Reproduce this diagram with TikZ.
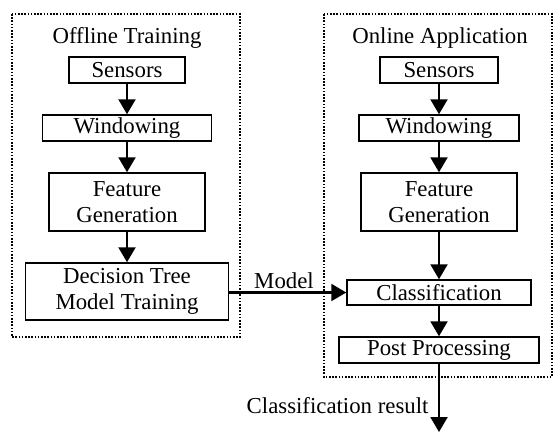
\documentclass[tikz,border=0pt]{standalone}
\usepackage{fontspec}
\setmainfont{Liberation Serif}
\usetikzlibrary{arrows.meta}
\begin{document}
\begin{tikzpicture}[x=1pt,y=-1pt,
  font=\fontsize{22.8}{26.5}\selectfont,
  blk/.style={draw,line width=1.5pt,inner sep=0pt,align=center,anchor=center},
  arr/.style={line width=2.2pt,-{Triangle[length=15pt,width=17pt]}},
  grp/.style={draw,line width=1.6pt,dash pattern=on 1.6pt off 1.6pt}]
\useasboundingbox (0,0) rectangle (555,432);
% groups
\draw[grp] (12,14) rectangle (240,337);
\draw[grp] (324,14) rectangle (552,377);
\node (tl) at (127,38) {Offline Training};
\node (tr) at (440,38) {Online Application};
% left column
\node[blk,minimum width=116pt,minimum height=26pt] (ls) at (127,70) {Sensors};
\node[blk,minimum width=169pt,minimum height=26pt] (lw) at (127,128) {Windowing};
\node[blk,minimum width=156pt,minimum height=58pt] (lf) at (127,202) {Feature\\Generation};
\node[blk,minimum width=203pt,minimum height=57pt] (ld) at (127,291.5) {Decision Tree\\Model Training};
% right column
\node[blk,minimum width=118pt,minimum height=26pt] (rs) at (439,70) {Sensors};
\node[blk,minimum width=160pt,minimum height=26pt] (rw) at (439,128) {Windowing};
\node[blk,minimum width=156pt,minimum height=58pt] (rf) at (439,202) {Feature\\Generation};
\node[blk,minimum width=184pt,minimum height=25pt] (rc) at (439,292.5) {Classification};
\node[blk,minimum width=200pt,minimum height=26pt] (rp) at (439,350) {Post Processing};
\coordinate (out) at (439,432);
% arrows
\draw[arr] (ls) -- (lw);
\draw[arr] (lw) -- (lf);
\draw[arr] (lf) -- (ld);
\draw[arr] (rs) -- (rw);
\draw[arr] (rw) -- (rf);
\draw[arr] (rf) -- (rc);
\draw[arr] (rc) -- (rp);
\draw[arr] (ld.east |- rc.west) -- (rc.west);
\node (ml) at (284,281) {Model};
\draw[arr] (rp) -- (out);
\node[anchor=east] (cr) at (432,406) {Classification result};
\end{tikzpicture}
\end{document}
